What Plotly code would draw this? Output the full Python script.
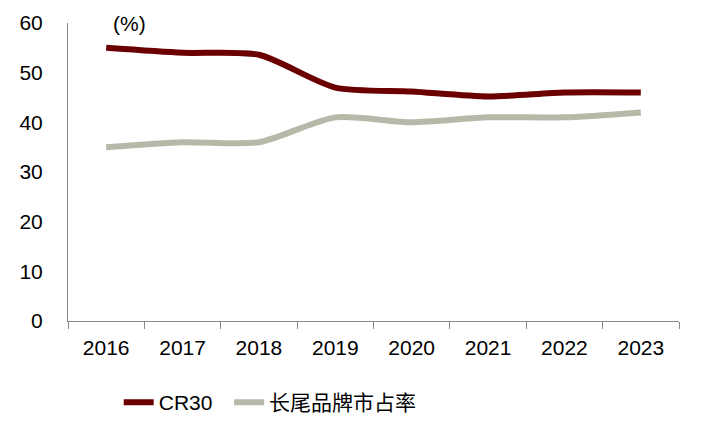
import plotly.graph_objects as go

years = ["2016", "2017", "2018", "2019", "2020", "2021", "2022", "2023"]
cr30 = [55, 54, 53.6, 47, 46.2, 45.2, 46, 46]
long_tail = [35, 36, 36, 41, 40, 41, 41, 42]

fig = go.Figure()
fig.add_trace(go.Scatter(
    x=years, y=cr30, name="CR30\u00a0\u00a0", mode="lines",
    line=dict(color="#6B0000", width=6, shape="spline", smoothing=0.7),
))
fig.add_trace(go.Scatter(
    x=years, y=long_tail, name="长尾品牌市占率", mode="lines",
    line=dict(color="#B8B8A8", width=6, shape="spline", smoothing=0.7),
))

fig.add_annotation(
    text="(%)", xref="paper", yref="paper", x=0.101, y=1.0,
    xanchor="center", yanchor="middle", showarrow=False,
    font=dict(size=21, color="#000"),
)

# page has an 8px body margin, so shift the plot area up/left
fig.update_layout(
    width=711, height=428,
    margin=dict(l=60, r=40, t=15, b=115, autoexpand=False),
    paper_bgcolor="white", plot_bgcolor="white",
    font=dict(family="Liberation Sans, Arial, Noto Sans CJK SC", size=21, color="#000"),
    showlegend=True,
    legend=dict(orientation="h", x=0.083, xanchor="left", y=-0.205, yanchor="top",
                font=dict(size=21), tracegroupgap=0),
)
fig.update_xaxes(
    type="category", showgrid=False, showline=True, linecolor="#888", linewidth=1,
    ticks="outside", tickson="boundaries", ticklen=7, tickcolor="#888",
    ticklabelstandoff=8, range=[-0.5, 7.5], automargin=False,
)
fig.update_yaxes(
    range=[0, 60], dtick=10, showgrid=False, showline=True, linecolor="#888",
    linewidth=1, ticks="", ticklabelstandoff=20, zeroline=False, automargin=False,
)

fig.write_html("out.html")
